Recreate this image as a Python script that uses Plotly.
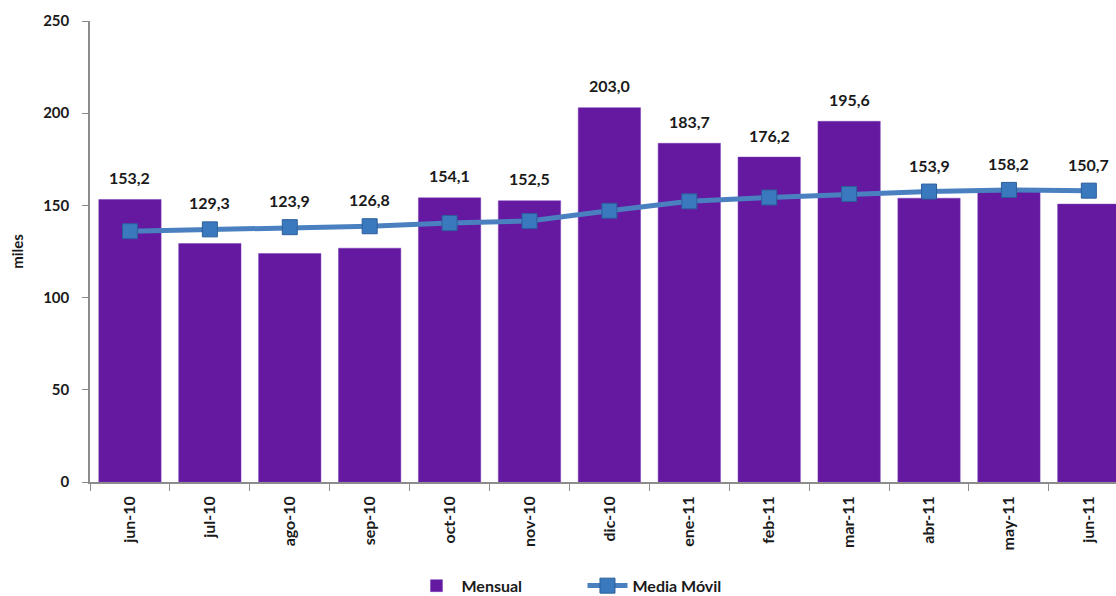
import plotly.graph_objects as go

categories = ["jun-10", "jul-10", "ago-10", "sep-10", "oct-10", "nov-10", "dic-10",
              "ene-11", "feb-11", "mar-11", "abr-11", "may-11", "jun-11"]
mensual = [153.2, 129.3, 123.9, 126.8, 154.1, 152.5, 203.0,
           183.7, 176.2, 195.6, 153.9, 158.2, 150.7]
media_movil = [136.0, 137.0, 138.2, 138.7, 140.4, 141.5, 147.1,
               152.2, 154.3, 156.2, 157.5, 158.4, 158.0]
y_ticks = [0, 50, 100, 150, 200, 250]

FONT = "Lato"
TXT = "#1a1a1a"
labels = [f"{v:.1f}".replace(".", ",") for v in mensual]

fig = go.Figure()
fig.add_trace(go.Bar(
    x=categories, y=mensual, name="Mensual",
    marker=dict(color="#6419A0", line=dict(color="#7A3CB8", width=0.5)),
    hoverinfo="x+y",
))
fig.add_trace(go.Scatter(
    x=categories, y=media_movil, name="Media Móvil", mode="lines+markers",
    line=dict(color="#4A80C0", width=5),
    marker=dict(symbol="square", size=15, color="#3B79BF",
                line=dict(color="#2B5E9A", width=1)),
    cliponaxis=False,
))

# data labels sit above whichever is higher: the bar or the moving-average marker
for cat, lab, b, m in zip(categories, labels, mensual, media_movil):
    fig.add_annotation(
        x=cat, y=max(b, m + 2.4), text=lab, showarrow=False,
        yanchor="middle", yshift=22,
        font=dict(family=FONT, size=16, color=TXT, weight="bold"),
    )

fig.update_layout(
    width=1116, height=596,
    margin=dict(l=90, r=0, t=21, b=114, autoexpand=False),
    paper_bgcolor="white", plot_bgcolor="white",
    bargap=0.22,
    font=dict(family=FONT, size=15, color=TXT),
    showlegend=True,
    legend=dict(orientation="h", x=0.48, xanchor="center", y=-0.225, yanchor="middle",
                font=dict(family=FONT, size=16, color=TXT, weight="bold"),
                itemwidth=40, traceorder="normal", entrywidth=116),
    xaxis=dict(
        type="category", range=[-0.5, 12.34],
        showline=True, linecolor="#8c8c8c", linewidth=1.5,
        ticks="outside", ticklen=7, tickcolor="#8c8c8c", tickson="boundaries",
        tickangle=-90, showgrid=False, automargin=False, ticklabelstandoff=6,
        tickfont=dict(family=FONT, size=16, color=TXT, weight="bold"),
    ),
    yaxis=dict(
        range=[0, 250], tickvals=y_ticks,
        showline=True, linecolor="#8c8c8c", linewidth=1.5,
        ticks="outside", ticklen=6, tickcolor="#8c8c8c", showgrid=False,
        zeroline=False, ticklabelstandoff=10, automargin=False,
        tickfont=dict(family=FONT, size=15, color=TXT, weight="bold"),
        title=dict(text="miles", standoff=16,
                   font=dict(family=FONT, size=15, color=TXT, weight="bold")),
    ),
)

fig.write_html("out.html",
               config={"displayModeBar": False},
               post_script="document.body.style.margin='0';document.body.style.overflow='hidden';")
